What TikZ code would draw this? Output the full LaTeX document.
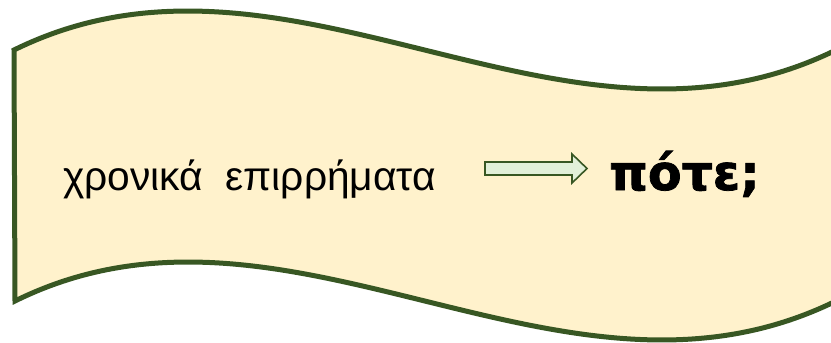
\documentclass[tikz,border=0pt]{standalone}
\usepackage{fontspec}
\setmainfont{Liberation Sans}
\newfontfamily\boldgreek[FakeBold=1.6]{DejaVu Sans Bold}
\definecolor{bannerfill}{HTML}{FFF2CC}
\definecolor{bannerline}{HTML}{385723}
\definecolor{arrowfill}{HTML}{E2F0D9}
\tikzset{
  banner/.style={fill=bannerfill, draw=bannerline, line width=5pt, line join=miter},
  blockarrow/.style={fill=arrowfill, draw=bannerline, line width=1.6pt, line join=miter},
  plainlabel/.style={inner sep=0pt, anchor=base west, font=\fontsize{40.7}{48}\selectfont},
  boldlabel/.style={inner sep=0pt, anchor=base west, font=\boldgreek\fontsize{49}{58}\selectfont}
}
\begin{document}
\begin{tikzpicture}[x=1pt, y=-1pt]
\useasboundingbox (0,0) rectangle (831,343);
% wave banner
\draw[banner] (14,50) .. controls (288,-85) and (561,185) .. (836,50)
  -- (836,301) .. controls (561,436) and (288,166) .. (15,301) -- cycle;
% texts
\node[plainlabel] (adv) at (63,190) {χρονικά\ \ επιρρήματα};
\node[boldlabel] (when) at (609,190) {πότε;};
% block arrow
\coordinate (arrs) at (485,168.5);
\draw[blockarrow] ([yshift=-6.5pt]arrs) -- ++(87,0) -- ++(0,8) -- ++(15,-14.5)
  -- ++(-15,-14.5) -- ++(0,8) -- ++(-87,0) -- cycle;
\end{tikzpicture}
\end{document}
